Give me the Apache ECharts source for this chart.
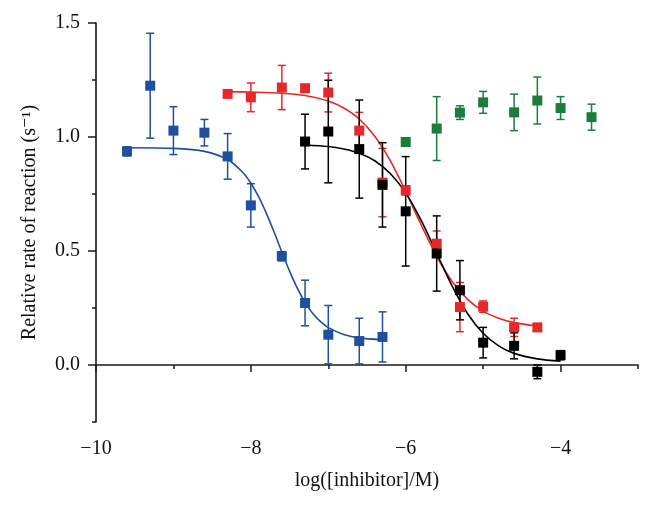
<!DOCTYPE html>
<html>
<head>
<meta charset="utf-8">
<script src="https://cdn.jsdelivr.net/npm/echarts@6/dist/echarts.min.js"></script>
<style>
  html, body { margin: 0; padding: 0; background: #fff; }
  #chartBody { width: 653px; height: 507px; }
</style>
</head>
<body>
<div id="chartBody"></div>
<script>
// measured points (log[inhibitor], rate, error)
const blueX = [-9.6, -9.3, -9.0, -8.6, -8.3, -8.0, -7.6, -7.3, -7.0, -6.6, -6.3];
const blueY = [0.937, 1.225, 1.028, 1.019, 0.915, 0.70, 0.477, 0.272, 0.133, 0.105, 0.123];
const blueErr = [0.02, 0.23, 0.105, 0.058, 0.10, 0.095, 0.02, 0.10, 0.128, 0.10, 0.11];

const redX = [-8.3, -8.0, -7.6, -7.3, -7.0, -6.6, -6.3, -6.0, -5.6, -5.3, -5.0, -4.6, -4.3];
const redY = [1.189, 1.174, 1.217, 1.214, 1.195, 1.028, 0.80, 0.766, 0.532, 0.254, 0.256, 0.165, 0.165];
const redErr = [0.01, 0.063, 0.097, 0.01, 0.085, 0.08, 0.15, 0.02, 0.056, 0.108, 0.025, 0.04, 0.01];

const blackX = [-7.3, -7.0, -6.6, -6.3, -6.0, -5.6, -5.3, -5.0, -4.6, -4.3, -4.0];
const blackY = [0.98, 1.024, 0.947, 0.79, 0.674, 0.489, 0.328, 0.098, 0.084, -0.03, 0.043];
const blackErr = [0.12, 0.225, 0.215, 0.185, 0.24, 0.165, 0.13, 0.067, 0.057, 0.03, 0.02];

const greenX = [-6.0, -5.6, -5.3, -5.0, -4.6, -4.3, -4.0, -3.6];
const greenY = [0.978, 1.037, 1.107, 1.152, 1.108, 1.16, 1.127, 1.087];
const greenErr = [0.01, 0.14, 0.03, 0.048, 0.08, 0.103, 0.05, 0.057];

// fitted curves
const blueCurveX = [-9.6, -9.0, -8.6, -8.3, -8.1, -8.0, -7.9, -7.8, -7.7, -7.6, -7.5, -7.4, -7.3, -7.2, -7.1, -7.0, -6.8, -6.6, -6.3];
const blueCurveY = [0.953, 0.950, 0.937, 0.901, 0.843, 0.797, 0.738, 0.665, 0.583, 0.496, 0.412, 0.337, 0.275, 0.226, 0.190, 0.164, 0.134, 0.119, 0.111];

const redCurveX = [-8.3, -8.0, -7.6, -7.3, -7.0, -6.8, -6.6, -6.4, -6.2, -6.0, -5.8, -5.6, -5.4, -5.2, -5.0, -4.8, -4.6, -4.3];
const redCurveY = [1.199, 1.197, 1.192, 1.182, 1.158, 1.127, 1.079, 1.003, 0.896, 0.761, 0.614, 0.477, 0.366, 0.288, 0.236, 0.205, 0.186, 0.171];

const blackCurveX = [-7.3, -7.0, -6.8, -6.6, -6.4, -6.2, -6.0, -5.8, -5.6, -5.4, -5.2, -5.0, -4.8, -4.6, -4.3, -4.0];
const blackCurveY = [0.965, 0.958, 0.947, 0.929, 0.896, 0.840, 0.755, 0.634, 0.49, 0.346, 0.225, 0.139, 0.084, 0.051, 0.027, 0.017];

// axis ticks
const xMajorTicks = [-10, -8, -6, -4];
const xMinorTicks = [-9, -7, -5, -3];
const yMajorTicks = [0, 0.5, 1.0, 1.5];
const yMinorTicks = [-0.25, 0.25, 0.75, 1.25];

const FONT = "'Liberation Serif', 'DejaVu Serif', serif";
const AXIS_COLOR = "#1a1a1a";

function pairs(xs, ys) {
  return xs.map((x, i) => [x, ys[i]]);
}

function bars(xs, ys, errs) {
  return xs.map((x, i) => [x, ys[i] - errs[i], ys[i] + errs[i]]);
}

function errorBarSeries(data, color) {
  return {
    type: "custom",
    z: 3,
    data: data,
    renderItem(params, api) {
      const x = api.value(0);
      const top = api.coord([x, api.value(2)]);
      const bot = api.coord([x, api.value(1)]);
      const w = 4;
      const style = { stroke: color, lineWidth: 1.5 };
      return {
        type: "group",
        children: [
          { type: "line", shape: { x1: top[0], y1: top[1], x2: bot[0], y2: bot[1] }, style: style },
          { type: "line", shape: { x1: top[0] - w, y1: top[1], x2: top[0] + w, y2: top[1] }, style: style },
          { type: "line", shape: { x1: bot[0] - w, y1: bot[1], x2: bot[0] + w, y2: bot[1] }, style: style }
        ]
      };
    }
  };
}

function curveSeries(data, color) {
  return {
    type: "line",
    data: data,
    smooth: 0.3,
    showSymbol: false,
    z: 2,
    lineStyle: { color: color, width: 1.6 }
  };
}

function pointSeries(data, color) {
  return {
    type: "scatter",
    data: data,
    symbol: "rect",
    symbolSize: 10,
    z: 4,
    itemStyle: { color: color, opacity: 1 }
  };
}

const groups = [
  { name: "blue", color: "#1f4f9f", x: blueX, y: blueY, err: blueErr, cx: blueCurveX, cy: blueCurveY },
  { name: "red", color: "#e5292a", x: redX, y: redY, err: redErr, cx: redCurveX, cy: redCurveY },
  { name: "black", color: "#000000", x: blackX, y: blackY, err: blackErr, cx: blackCurveX, cy: blackCurveY },
  { name: "green", color: "#1b7d3c", x: greenX, y: greenY, err: greenErr }
];

let series = [];
groups.forEach(g => {
  if (g.cx) series.push(curveSeries(pairs(g.cx, g.cy), g.color));
  series.push(errorBarSeries(bars(g.x, g.y, g.err), g.color));
  series.push(pointSeries(pairs(g.x, g.y), g.color));
});

const minus = v => (v < 0 ? "\u2212" + Math.abs(v) : String(v));

const chartOption = {
  animation: false,
  backgroundColor: "#fff",
  textStyle: { fontFamily: FONT },
  grid: { left: 96, right: 15, top: 23, bottom: 85, containLabel: false, outerBoundsMode: "none" },
  xAxis: [
    {
      type: "value",
      position: "bottom",
      min: -10,
      max: -3,
      name: "log([inhibitor]/M)",
      nameLocation: "middle",
      nameGap: 49,
      nameTextStyle: { fontFamily: FONT, fontSize: 20, color: "#111" },
      splitLine: { show: false },
      axisLine: { show: true, lineStyle: { color: AXIS_COLOR, width: 1.6 } },
      axisTick: { show: true, customValues: xMajorTicks, length: 7, lineStyle: { color: AXIS_COLOR, width: 1.5 } },
      axisLabel: { customValues: xMajorTicks, formatter: minus, fontFamily: FONT, fontSize: 20, color: "#111", margin: 17 }
    },
    {
      type: "value",
      position: "bottom",
      min: -10,
      max: -3,
      splitLine: { show: false },
      axisLine: { show: false },
      axisTick: { show: true, customValues: xMinorTicks, length: 4, lineStyle: { color: AXIS_COLOR, width: 1.5 } },
      axisLabel: { show: false }
    }
  ],
  yAxis: [
    {
      type: "value",
      position: "left",
      min: -0.25,
      max: 1.5,
      name: "Relative rate of reaction (s\u207B\u00B9)",
      nameLocation: "middle",
      nameGap: 56,
      nameTextStyle: { fontFamily: FONT, fontSize: 20, color: "#111" },
      splitLine: { show: false },
      axisLine: { show: true, lineStyle: { color: AXIS_COLOR, width: 1.6 } },
      axisTick: { show: true, customValues: yMajorTicks, length: 8, lineStyle: { color: AXIS_COLOR, width: 1.5 } },
      axisLabel: { customValues: yMajorTicks, formatter: v => v.toFixed(1), fontFamily: FONT, fontSize: 20, color: "#111", margin: 16 }
    },
    {
      type: "value",
      position: "left",
      min: -0.25,
      max: 1.5,
      splitLine: { show: false },
      axisLine: { show: false },
      axisTick: { show: true, customValues: yMinorTicks, length: 4, lineStyle: { color: AXIS_COLOR, width: 1.5 } },
      axisLabel: { show: false }
    }
  ],
  series: series
};

function initChart() {
  const myChart = echarts.init(document.getElementById("chartBody"), null, { renderer: "canvas" });
  myChart.setOption(chartOption);
}

initChart();
</script>
</body>
</html>
